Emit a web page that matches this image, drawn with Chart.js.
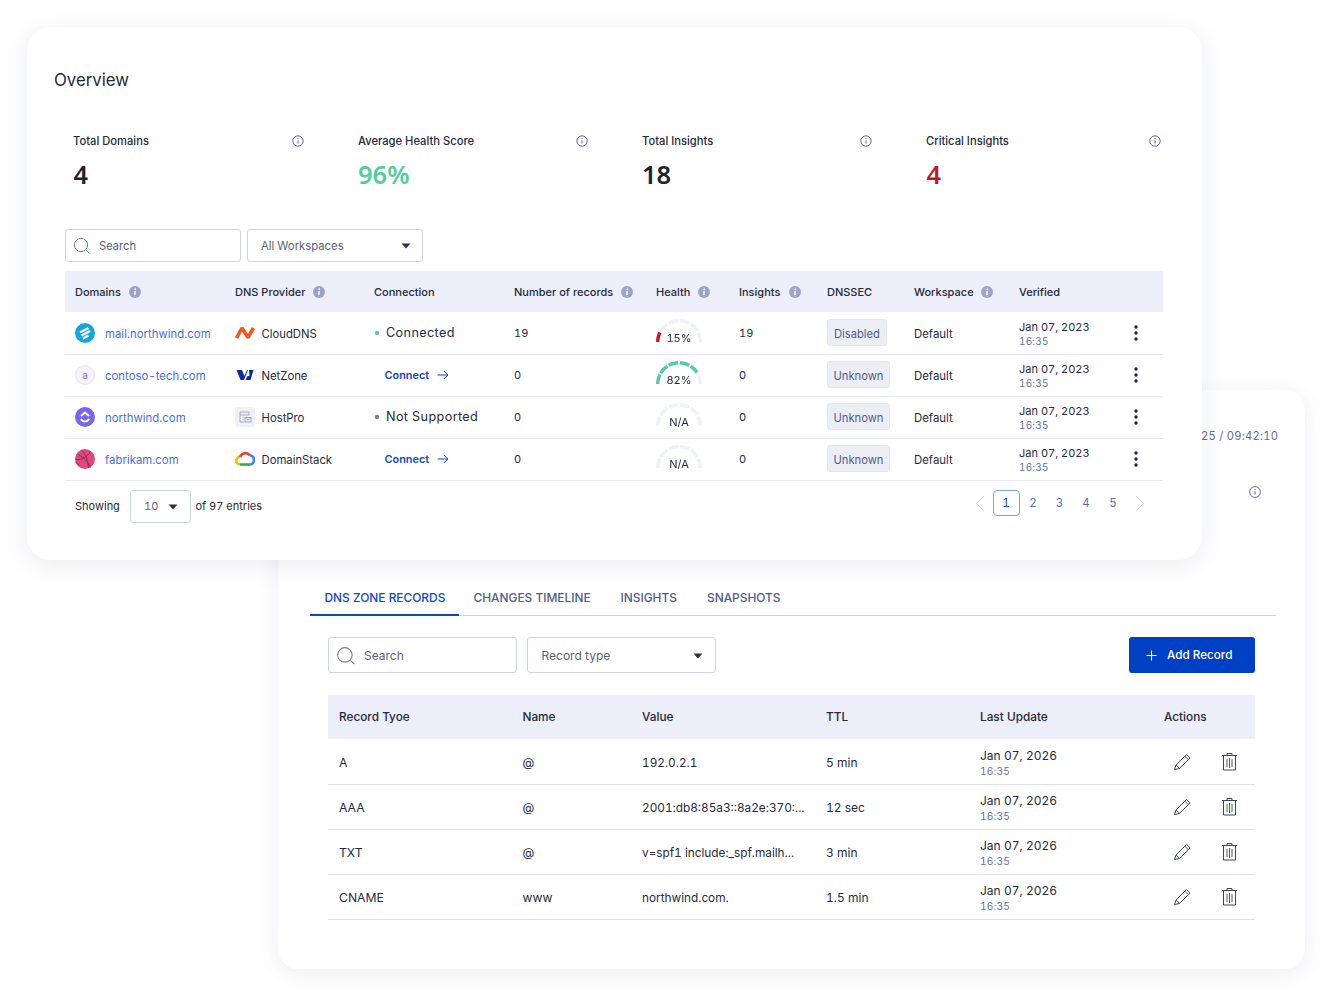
<!DOCTYPE html>
<html><head><meta charset="utf-8">
<script src="https://cdn.jsdelivr.net/npm/chart.js@4"></script>
<style>
html,body{margin:0;padding:0;background:#fff}
#page{position:relative;width:1330px;height:998px;overflow:hidden;background:#fff;font-family:Inter,sans-serif;color:#2b2f3f;font-variant-numeric:tabular-nums}
.card{position:absolute;background:#fff}
.t{position:absolute;white-space:nowrap;line-height:16px;height:16px}
.box{position:absolute;box-sizing:border-box;background:#fff;border:1px solid #cfd2e6;border-radius:3px}
.fill{position:absolute}
svg{position:absolute;overflow:visible}
</style></head><body><div id="page">
<div class="card" id="back" style="left:278px;top:390px;width:1027px;height:579px;border-radius:20px;box-shadow:0 4px 22px rgba(70,80,130,.10)"></div>
<div class="card" id="front" style="left:27px;top:27px;width:1175px;height:533px;border-radius:24px;box-shadow:0 5px 24px rgba(70,80,130,.11);z-index:2"></div>
</div>
<script>
// ---- chart data ----
const domainNames = ["mail.northwind.com","contoso-tech.com","northwind.com","fabrikam.com"];
const providers = ["CloudDNS","NetZone","HostPro","DomainStack"];
const connections = ["Connected","Connect","Not Supported","Connect"];
const recordCounts = ["19","0","0","0"];
const healthValues = [15,82,null,null];
const healthLabels = ["15%","82%","N/A","N/A"];
const insightCounts = ["19","0","0","0"];
const dnssecStates = ["Disabled","Unknown","Unknown","Unknown"];
const workspaces = ["Default","Default","Default","Default"];
const verifiedDate = "Jan 07, 2023";
const verifiedTime = "16:35";
const statLabels = ["Total Domains","Average Health Score","Total Insights","Critical Insights"];
const statValues = ["4","96%","18","4"];
const topHeaders = ["Domains","DNS Provider","Connection","Number of records","Health","Insights","DNSSEC","Workspace","Verified"];
const tabs = ["DNS ZONE RECORDS","CHANGES TIMELINE","INSIGHTS","SNAPSHOTS"];
const recHeaders = ["Record Tyoe","Name","Value","TTL","Last Update","Actions"];
const recTypes = ["A","AAA","TXT","CNAME"];
const recNames = ["@","@","@","www"];
const recValues = ["192.0.2.1","2001:db8:85a3::8a2e:370:...","v=spf1 include:_spf.mailh...","northwind.com."];
const recTtl = ["5 min","12 sec","3 min","1.5 min"];
const recDate = "Jan 07, 2026";
const recTime = "16:35";
const pages = ["1","2","3","4","5"];

// ---- helpers ----
const page = document.getElementById('page');
function el(z, html){const d=document.createElement('div');d.style.cssText=`position:absolute;left:0;top:0;z-index:${z}`;d.innerHTML=html;page.appendChild(d);return d;}
function T(z,x,cy,s,css=''){el(z,`<div class="t" style="left:${x}px;top:${cy-8}px;${css}">${s}</div>`);}
function TC(z,x,cy,s,css=''){el(z,`<div class="t" style="left:${x}px;top:${cy-8}px;transform:translateX(-50%);${css}">${s}</div>`);}
function B(z,x,y,w,h,css=''){el(z,`<div class="box" style="left:${x}px;top:${y}px;width:${w}px;height:${h}px;${css}"></div>`);}
function F(z,x,y,w,h,c){el(z,`<div class="fill" style="left:${x}px;top:${y}px;width:${w}px;height:${h}px;background:${c}"></div>`);}
function S(z,x,y,s,inner){el(z,`<svg style="left:${x}px;top:${y}px" width="${s}" height="${s}" viewBox="0 0 ${s} ${s}">${inner}</svg>`);}
const DARK='#262a3a', LINK='#3f6fe8', BLUE='#0f47c9', MUTE='#5f6f9f';
function infoLine(z,cx,cy,r=5.2){S(z,cx-8,cy-8,16,`<circle cx="8" cy="8" r="${r}" fill="none" stroke="#5b6ea6" stroke-width="1"/><path d="M8 7.4v3.2" stroke="#5b6ea6" stroke-width="1.1"/><circle cx="8" cy="5.6" r=".7" fill="#5b6ea6"/>`);}
function infoFill(z,cx,cy){S(z,cx-7,cy-7,14,`<circle cx="7" cy="7" r="6" fill="#9aa3c8"/><path d="M7.2 6.2 6.8 10" stroke="#fff" stroke-width="1.5"/><circle cx="7.3" cy="4.2" r=".9" fill="#fff"/>`);}
function lens(z,cx,cy,s=1){S(z,cx-10,cy-10,20,`<g transform="translate(10 10) scale(${s})"><circle cx="-1" cy="-1" r="6.6" fill="none" stroke="#6d7fb0" stroke-width="1"/><path d="M3.8 3.8 7.6 7.4" stroke="#6d7fb0" stroke-width="1"/></g>`);}
function caret(z,cx,cy){S(z,cx-6,cy-4,12,`<path d="M1.5 1.5h9L6 6.5z" fill="#2f3345"/>`);}

// ---- front card: stats ----
T(3,54,80,'Overview','font-size:16.8px;color:'+DARK);
const statX=[73,358,642,926], infoX=[297.5,581.5,866,1155], statCol=['#1e2230','#55cc9e','#1e2230','#c0192c'];
statLabels.forEach((s,i)=>{
  T(3,statX[i],141,s,'font-size:11.2px;font-weight:500;color:'+DARK);
  infoLine(3,infoX[i],140.5);
  T(3,statX[i]+(i===0||i===3?.5:0),174,statValues[i],`font-family:'Noto Sans';font-size:25.5px;font-weight:600;color:${statCol[i]}`);
});
// search row
B(3,65,229,176,33); lens(3,82,245.5); T(3,99,246,'Search','font-size:11.2px;color:#5d6274');
B(3,247,229,176,33); T(3,261,246,'All Workspaces','font-size:11.3px;color:#5d6274'); caret(3,406,246);

// top table
F(3,65,271,1098,41,'#eceef9');
const topX=[75,235,374,514,656,739,827,914,1019], topInfo=[135,319,null,627,704,795,null,987,null];
topHeaders.forEach((h,i)=>{
  T(3,topX[i],292,h,'font-size:11px;font-weight:500;color:'+DARK);
  if(topInfo[i]) infoFill(3,topInfo[i],291.5);
});
const rowY=[333,375,417,459];
const domIcons=[
 `<circle cx="10" cy="10" r="10" fill="#15a5e0"/><path d="M5 9.5 13.5 5M6.5 12.5 15 8M8 15.5 13.5 12.5" stroke="#fff" stroke-width="2.2" fill="none"/>`,
 `<circle cx="10" cy="10" r="9.5" fill="#f6f2ff" stroke="#e8e1fb"/><text x="10" y="13.6" text-anchor="middle" font-family="Inter" font-size="10" fill="#8a72d6">a</text>`,
 `<circle cx="10" cy="10" r="10" fill="#7a66ea"/><path d="M6 9 10 5.5 14 9" stroke="#fff" stroke-width="2" fill="none"/><path d="M5.8 12.2C8 15.2 12 15.2 14.2 12.2" stroke="#fff" stroke-width="2" fill="none"/>`,
 `<circle cx="10" cy="10" r="10" fill="#dc4a7d"/><path d="M3 5.5C8 8 13 12 15.5 18.5M1 10.5C7 11 12 8 15.5 2.5M6.5 1C10 5 12.5 9.5 13.5 19M.8 13 4 16" stroke="#a52253" stroke-width="1" fill="none"/>`];
const provIcons=[
 `<path d="M1.5 15 7 5 13 14.5 18.5 5" fill="none" stroke="#f05a1e" stroke-width="3.6" stroke-linejoin="bevel"/>`,
 `<path d="M1.5 5h5.5L9.5 11 12 5h1L9 15H5.5z" fill="#0d2a9e"/><path d="M14 5h4.5L15.5 15h-5l2-4h2z" fill="#0d2a9e"/>`,
 `<rect width="20" height="20" rx="3" fill="#f0f1f8"/><path d="M5 5h9v3H5zM5 8v7h4M7.5 10.5h1M7.5 12.5h1" fill="none" stroke="#9aa2c4" stroke-width=".9"/><rect x="10" y="10.5" width="6" height="4.5" fill="none" stroke="#9aa2c4" stroke-width=".9"/><path d="M10 10.5 13 13l3-2.5" fill="none" stroke="#9aa2c4" stroke-width=".8"/>`,
 `<path d="M5 15.5a3.8 3.8 0 0 1 0-7.6" fill="none" stroke="#fbbc05" stroke-width="2.6"/><path d="M5 8a5.8 5.8 0 0 1 10-1.6" fill="none" stroke="#ea4335" stroke-width="2.6"/><path d="M15 6.4a4.6 4.6 0 0 1 0 9.1" fill="none" stroke="#4285f4" stroke-width="2.6"/><path d="M5 15.5H15" stroke="#34a853" stroke-width="2.6"/>`];
domainNames.forEach((d,i)=>{
  const y=rowY[i];
  S(3,75,y-10,20,domIcons[i]);
  T(3,105,y+1,d,'font-size:11.3px;letter-spacing:.05px;color:'+LINK);
  S(3,235,y-10,20,provIcons[i]);
  T(3,261.5,y+1,providers[i],'font-size:11.3px;color:'+DARK);
  const c=connections[i];
  if(c==='Connect'){
    T(3,384.5,y,c,'font-size:10.9px;font-weight:600;color:'+BLUE);
    S(3,436,y-7,14,`<path d="M1.5 7H12M8 3l4 4-4 4" fill="none" stroke="${BLUE}" stroke-width="1"/>`);
  } else {
    S(3,373,y-4,8,`<circle cx="4" cy="4" r="2.2" fill="${c==='Connected'?'#55cc9e':'#7b7f8c'}"/>`);
    T(3,386,y,c,'font-size:12.7px;letter-spacing:.35px;color:'+DARK);
  }
  T(3,514,y,recordCounts[i],'font-size:11px;color:'+DARK);
  T(3,739,y,insightCounts[i],'font-size:11px;color:'+DARK);
  const w=dnssecStates[i]==='Disabled'?60:63;
  el(3,`<div class="box" style="left:827px;top:${y-14}px;width:${w}px;height:27px;background:#eceef5;border:1px solid #e3e5f0"></div>`);
  TC(3,827+w/2,y+1,dnssecStates[i],'font-size:11.2px;color:#4d5c8c');
  T(3,914,y+1,workspaces[i],'font-size:11.4px;color:'+DARK);
  T(3,1019,y-6,verifiedDate,'font-size:11px;color:'+DARK);
  T(3,1019,y+8,verifiedTime,'font-size:10px;letter-spacing:.2px;color:'+MUTE);
  S(3,1131,y-8,16,`<circle cx="5" cy="2" r="1.7" fill="#20232f"/><circle cx="5" cy="8" r="1.7" fill="#20232f"/><circle cx="5" cy="14" r="1.7" fill="#20232f"/>`);
  F(3,65,y+20.5,1098,1,'#e8e9f3');
  TC(4,679,y+5,healthLabels[i],'font-size:11px;color:'+DARK);
});

// gauges: half doughnuts split into dashes
const GAUGE_W=46, GAUGE_H=23, DASHES=6, GAP=2.4, TRACK='#eef0fb';
function gaugeColor(v){return v<50?'#c8172b':'#55cc9e';}
function gaugeSlices(v){
  const span=(100+GAP)/DASHES, data=[], colors=[];
  for(let k=0;k<DASHES;k++){
    const a=k*span, b=a+span-GAP, on=v===null?0:Math.max(0,Math.min(b,v)-a);
    if(on>0){data.push(on);colors.push(gaugeColor(v));}
    if(b-a-on>0){data.push(b-a-on);colors.push(TRACK);}
    if(k<DASHES-1){data.push(GAP);colors.push('rgba(0,0,0,0)');}
  }
  return {data,colors};
}
healthValues.forEach((v,i)=>{
  const c=document.createElement('canvas');
  c.width=GAUGE_W;c.height=GAUGE_H;
  const wrap=document.createElement('div');
  wrap.style.cssText=`position:absolute;left:656px;top:${rowY[i]+9-GAUGE_H}px;width:${GAUGE_W}px;height:${GAUGE_H}px;z-index:3`;
  wrap.appendChild(c);page.appendChild(wrap);
  const g=gaugeSlices(v);
  new Chart(c,{type:'doughnut',
    data:{labels:g.data.map((_,k)=>'slice '+k),datasets:[{data:g.data,backgroundColor:g.colors,borderWidth:0}]},
    options:{responsive:false,animation:false,rotation:-90,circumference:180,cutout:'85%',
      events:[],plugins:{legend:{display:false},tooltip:{enabled:false}}}});
});

// footer of front card
T(3,75,506,'Showing','font-size:11px;color:'+DARK);
B(3,130,490,61,33); T(3,144,506,'10','font-size:11px;color:#5d6274'); caret(3,173,507);
T(3,195.5,506,'of 97 entries','font-size:11px;color:'+DARK);
const pageX=[1006,1033,1059.5,1086,1113];
el(3,`<div class="box" style="left:993px;top:490px;width:27px;height:26px;border:1.3px solid #7f9fe6;border-radius:4px"></div>`);
pages.forEach((p,i)=>TC(3,pageX[i],503,p,`font-size:11.5px;color:${i===0?BLUE:MUTE}`));
S(3,973,495,16,`<path d="M11 1 3.5 8.5 11 16" fill="none" stroke="#d3d5e6" stroke-width="1"/>`);
S(3,1133,495,16,`<path d="M3 1l7.5 7.5L3 16" fill="none" stroke="#d3d5e6" stroke-width="1"/>`);

// ---- back card ----
T(1,1201,436,'25 / 09:42:10','font-size:11.2px;letter-spacing:.25px;color:#5d6c9a');
infoLine(1,1255,492,5.4);
const tabX=[324.5,473.5,620.5,707];
tabs.forEach((t,i)=>T(1,tabX[i],598,t,`font-size:11.9px;font-weight:500;color:${i===0?BLUE:'#4d5c8c'}`));
F(1,310,615,966,1,'#cfd1de');
F(1,310,613.5,149,2,BLUE);
B(1,328,637,189,36); lens(1,346,655.5,1.1); T(1,364,656,'Search','font-size:12px;color:#5d6274');
B(1,527,637,189,36); T(1,541.5,656,'Record type','font-size:12px;color:#5d6274'); caret(1,698,656);
el(1,`<div class="fill" style="left:1129px;top:637px;width:126px;height:36px;border-radius:3px;background:#0040c4"></div>`);
S(1,1145,649,13,`<path d="M6.5 1.5v10M1.5 6.5h10" stroke="#fff" stroke-width="1.1"/>`);
T(1,1167,655,'Add Record','font-size:11.7px;font-weight:500;color:#fff');
F(1,328,695,927,44,'#eceef9');
const recX=[339,522.5,642,826,980,1164];
recHeaders.forEach((h,i)=>T(1,recX[i],717,h,'font-size:11.8px;font-weight:500;color:'+DARK));
const recY=[762,807,852,897];
recTypes.forEach((r,i)=>{
  const y=recY[i];
  T(1,339,y+1,r,'font-size:12.2px;color:'+DARK);
  T(1,522.5,y+1,recNames[i],'font-size:12.2px;color:'+DARK);
  T(1,642,y+1,recValues[i],'font-size:11.8px;color:'+DARK);
  T(1,826,y+1,recTtl[i],'font-size:12px;color:'+DARK);
  T(1,980,y-6,recDate,'font-size:12px;color:'+DARK);
  T(1,980,y+9,recTime,'font-size:10.2px;letter-spacing:.2px;color:'+MUTE);
  S(1,1172,y-10,20,`<path d="M2.5 17.5 4 13 14.5 2.5 18 6 7.5 16.5z M12.8 4.2 16.3 7.7 M4 13 7.5 16.5" fill="none" stroke="#3f4456" stroke-width="1"/>`);
  S(1,1220,y-10,20,`<path d="M2 3.5h15M7 3.5V1.5h5v2M3.5 3.5v14.5h12V3.5" fill="none" stroke="#3f4456" stroke-width="1"/><path d="M7 7v8M9.5 6v10M12 7v8" stroke="#3f4456" stroke-width=".9"/>`);
  F(1,328,y+22,927,1,'#dfe0ea');
});
</script></body></html>
